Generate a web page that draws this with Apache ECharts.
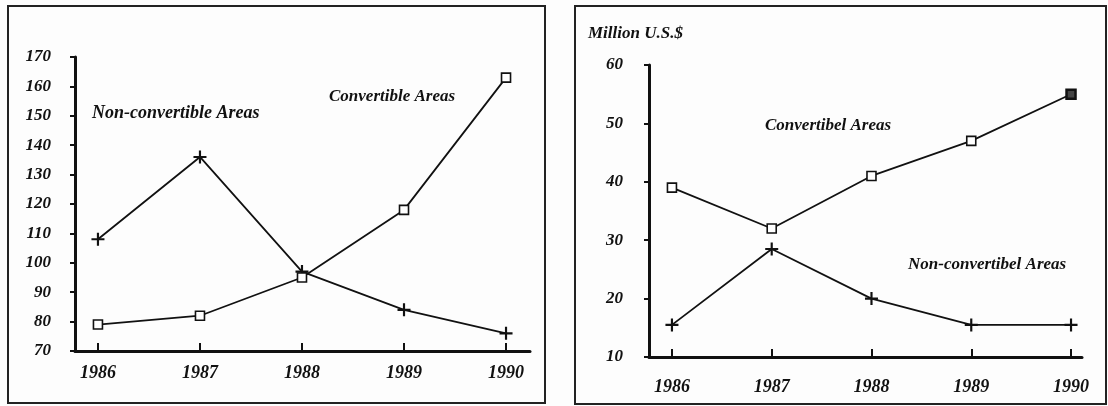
<!DOCTYPE html>
<html>
<head>
<meta charset="utf-8">
<script src="https://cdn.jsdelivr.net/npm/echarts@6/dist/echarts.min.js"></script>
<style>
  html, body { margin: 0; padding: 0; background: #fdfdfd; }
  #chart { width: 1108px; height: 406px; }
</style>
</head>
<body>
<div id="chart"></div>
<script>
// data
var years = [1986, 1987, 1988, 1989, 1990];
var leftConvertible = [79, 82, 95, 118, 163];
var leftNonConvertible = [108, 136, 97, 84, 76];
var rightConvertible = [39, 32, 41, 47, 55];
var rightNonConvertible = [15.5, 28.5, 20, 15.5, 15.5];

var FONT = '"Liberation Serif", "DejaVu Serif", serif';
var PLUS = 'path://M5,0h2v5h5v2h-5v5h-2v-5h-5v-2h5z';

function pairs(vals) {
    var out = [];
    for (var i = 0; i < years.length; i++) {
        out.push([years[i], vals[i]]);
    }
    return out;
}

function xAxisOf(grid, min, max, margin) {
    return {
        type: 'value',
        gridIndex: grid,
        min: min,
        max: max,
        axisLine: { show: true, onZero: false, lineStyle: { color: '#111', width: 3 } },
        axisTick: { show: true, inside: true, length: 8, customValues: years, lineStyle: { color: '#111', width: 2 } },
        axisLabel: {
            customValues: years,
            margin: margin,
            formatter: function (v) { return String(v); },
            fontFamily: FONT, fontStyle: 'italic', fontWeight: 'bold', fontSize: 18, color: '#111'
        },
        splitLine: { show: false }
    };
}

function yAxisOf(grid, min, max, margin) {
    return {
        type: 'value',
        gridIndex: grid,
        min: min,
        max: max,
        interval: 10,
        axisLine: { show: true, onZero: false, lineStyle: { color: '#111', width: 3 } },
        axisTick: { show: true, length: 5, lineStyle: { color: '#111', width: 2 } },
        axisLabel: {
            margin: margin,
            fontFamily: FONT, fontStyle: 'italic', fontWeight: 'bold', fontSize: 17, color: '#111'
        },
        splitLine: { show: false }
    };
}

function squareSeries(x, y, vals, boldLast) {
    var d = pairs(vals);
    if (boldLast) {
        d[d.length - 1] = { value: d[d.length - 1], itemStyle: { color: '#444', borderWidth: 2.5 } };
    }
    return {
        type: 'line', xAxisIndex: x, yAxisIndex: y, data: d,
        symbol: 'rect', symbolSize: 9,
        lineStyle: { color: '#111', width: 1.8 },
        itemStyle: { color: '#fff', borderColor: '#111', borderWidth: 1.6 },
        z: 3
    };
}

function plusSeries(x, y, vals) {
    return {
        type: 'line', xAxisIndex: x, yAxisIndex: y, data: pairs(vals),
        symbol: PLUS, symbolSize: 13,
        lineStyle: { color: '#111', width: 1.8 },
        itemStyle: { color: '#111' },
        z: 2
    };
}

function note(text, x, y, size) {
    return {
        type: 'text', left: x, top: y,
        style: {
            text: text, fill: '#111',
            font: 'italic bold ' + size + 'px ' + FONT
        }
    };
}

var myChart = echarts.init(document.getElementById('chart'));

var option = {
    backgroundColor: '#fdfdfd',
    animation: false,
    grid: [
        { left: 75, width: 455, top: 57, height: 294 },
        { left: 649, width: 433, top: 65, height: 292 }
    ],
    xAxis: [
        xAxisOf(0, 1985.775, 1990.235, 13),
        xAxisOf(1, 1985.77, 1990.11, 21)
    ],
    yAxis: [
        yAxisOf(0, 70, 170, 24),
        yAxisOf(1, 10, 60, 26)
    ],
    series: [
        squareSeries(0, 0, leftConvertible, false),
        plusSeries(0, 0, leftNonConvertible),
        squareSeries(1, 1, rightConvertible, true),
        plusSeries(1, 1, rightNonConvertible)
    ],
    graphic: [
        { type: 'rect', shape: { x: 8, y: 6, width: 537, height: 397 },
          style: { fill: 'none', stroke: '#222', lineWidth: 2 } },
        { type: 'rect', shape: { x: 575, y: 6, width: 531, height: 398 },
          style: { fill: 'none', stroke: '#222', lineWidth: 2 } },
        note('Non-convertible Areas', 92, 104, 18),
        note('Convertible Areas', 329, 88, 17),
        note('Million U.S.$', 588, 25, 17),
        note('Convertibel Areas', 765, 117, 17),
        note('Non-convertibel Areas', 908, 256, 17)
    ]
};

option && myChart.setOption(option);
</script>
</body>
</html>
